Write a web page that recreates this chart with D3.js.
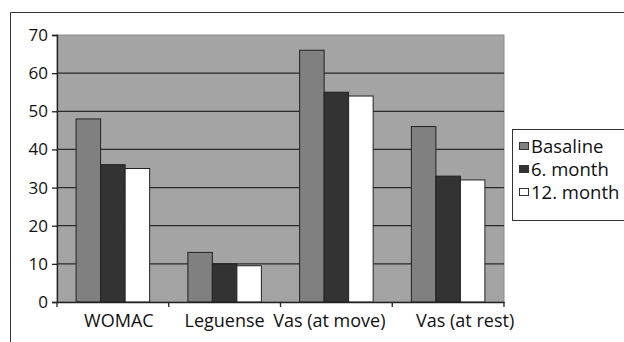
<!DOCTYPE html>
<html><head><meta charset="utf-8">
<script src="https://cdn.jsdelivr.net/npm/d3@7"></script>
<style>html,body{margin:0;padding:0;background:#fff;} svg{display:block;}</style>
</head><body>
<svg id="c" width="624" height="342"></svg>
<script>
const categories = ["WOMAC", "Leguense", "Vas (at move)", "Vas (at rest)"];
const seriesNames = ["Basaline", "6. month", "12. month"];
const basaline = [48, 13, 66, 46];
const month6 = [36, 10, 55, 33];
const month12 = [35, 9.5, 54, 32];
const yTicks = [0, 10, 20, 30, 40, 50, 60, 70];

const colors = ["#808080", "#333333", "#ffffff"];
const seriesVals = [basaline, month6, month12];
const font = "'Open Sans', sans-serif";
// small label nudges to mimic the original's label placement
const labelShift = [6, 0, -7, 17];

const svg = d3.select("#c");
const L = 57, R = 504, T = 35, B = 302;

// outer frame
svg.append("path").attr("d", "M10.5,342 V12.5 H624").attr("fill", "none").attr("stroke", "#333").attr("stroke-width", 1);

const x = d3.scaleBand().domain(categories).range([L, R]).paddingInner(0).paddingOuter(0);
const y = d3.scaleLinear().domain([0, 70]).range([B, T]);

// plot background
svg.append("rect").attr("x", L).attr("y", T).attr("width", R - L).attr("height", B - T)
  .attr("fill", "#a4a4a4").attr("stroke", "#8a8a8a").attr("stroke-width", 1);

// gridlines
svg.append("g").selectAll("line").data(yTicks.filter(d => d > 0 && d < 70)).join("line")
  .attr("x1", L).attr("x2", R).attr("y1", d => y(d)).attr("y2", d => y(d))
  .attr("stroke", "#2a2a2a").attr("stroke-width", 1.3);

// bars
const inner = d3.scaleBand().domain(seriesNames).range([0, x.bandwidth()]).paddingOuter(0.78).paddingInner(0);
const rows = [];
categories.forEach((c, i) => seriesNames.forEach((s, j) => rows.push({c, s, j, v: seriesVals[j][i]})));
svg.append("g").selectAll("rect").data(rows).join("rect")
  .attr("x", d => x(d.c) + inner(d.s))
  .attr("width", inner.bandwidth())
  .attr("y", d => y(d.v))
  .attr("height", d => B - y(d.v))
  .attr("fill", d => colors[d.j])
  .attr("stroke", "#222").attr("stroke-width", 1);

// y axis
const yAxis = d3.axisLeft(y).tickValues(yTicks).tickSize(5).tickPadding(4);
const gy = svg.append("g").attr("transform", `translate(${L},0)`).call(yAxis);
gy.select(".domain").attr("stroke", "#222").attr("stroke-width", 1.3);
gy.selectAll(".tick line").attr("stroke", "#222").attr("stroke-width", 1.3);
gy.selectAll("text").attr("font-family", font).attr("font-size", 17).attr("fill", "#111");

// x axis
const xAxis = d3.axisBottom(x).tickSize(0).tickPadding(12);
const gx = svg.append("g").attr("transform", `translate(0,${B})`).call(xAxis);
gx.select(".domain").attr("stroke", "#222").attr("stroke-width", 1.3);
gx.selectAll(".tick text").attr("font-family", font).attr("font-size", 18).attr("fill", "#111")
  .attr("dx", (d, i) => labelShift[i]);
// boundary tick marks
const bounds = categories.map(c => x(c)).concat([R]);
svg.append("g").selectAll("line").data(bounds).join("line")
  .attr("x1", d => d).attr("x2", d => d).attr("y1", B).attr("y2", B + 5)
  .attr("stroke", "#222").attr("stroke-width", 1.3);

// legend
const lg = svg.append("g");
lg.append("rect").attr("x", 512.5).attr("y", 129.5).attr("width", 130).attr("height", 91)
  .attr("fill", "#fff").attr("stroke", "#333").attr("stroke-width", 1);
const ly = d3.scalePoint().domain(seriesNames).range([147, 193]);
const items = lg.selectAll("g").data(seriesNames).join("g").attr("transform", d => `translate(0,${ly(d)})`);
items.append("rect").attr("x", 519.5).attr("y", -4.5).attr("width", 9).attr("height", 7)
  .attr("fill", (d, i) => colors[i]).attr("stroke", "#333").attr("stroke-width", 1);
items.append("text").attr("x", 531).attr("y", 0).attr("dy", "0.35em")
  .attr("font-family", font).attr("font-size", 18.5).attr("fill", "#111").text(d => d);
</script>
</body></html>
